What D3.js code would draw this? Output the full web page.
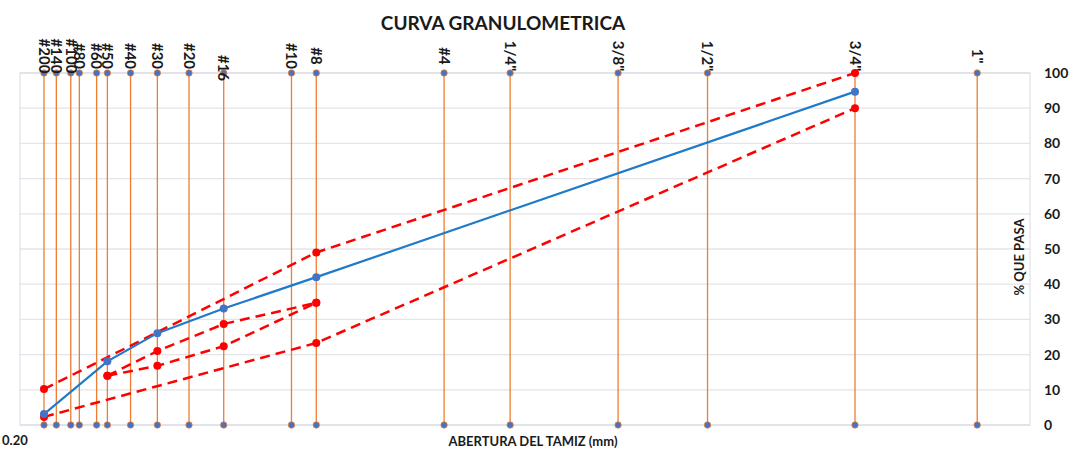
<!DOCTYPE html>
<html lang="es">

<head>
    <meta charset="UTF-8">
    <script type="text/javascript" src="https://d3js.org/d3.v7.min.js"></script>
    <title>Curva granulometrica</title>
    <style>
        body { margin: 0; background: #fff; }
        text { font-family: Lato, "Open Sans", sans-serif; font-weight: bold; fill: #1a1a1a; }
    </style>
</head>

<body>
    <script>
        // Tamices y aberturas (mm)
        var sieveNames = ["#200", "#140", "#100", "#80", "#60", "#50", "#40", "#30", "#20", "#16",
            "#10", "#8", "#4", "1/4\"", "3/8\"", "1/2\"", "3/4\"", "1\""];
        var sieveSizes = [0.075, 0.106, 0.15, 0.18, 0.25, 0.30, 0.425, 0.60, 0.85, 1.18,
            2.00, 2.36, 4.75, 6.35, 9.525, 12.70, 19.05, 25.40];

        // Curva del material (% que pasa)
        var curveSizes = [0.075, 0.30, 0.60, 1.18, 2.36, 19.05];
        var curvePass = [3.1, 18.1, 26.1, 33.1, 42.0, 94.7];

        // Limites (huso) - lineas rojas
        var upperSizes = [0.075, 2.36, 19.05];
        var upperPass = [10.2, 49.0, 100];
        var lowerSizes = [0.075, 2.36, 19.05];
        var lowerPass = [2.3, 23.3, 90];
        var innerSizes = [0.30, 0.60, 1.18, 2.36];
        var innerUpperPass = [14, 21, 28.7, 34.7];
        var innerLowerPass = [14, 16.8, 22.4, 34.7];

        var yTicks = [0, 10, 20, 30, 40, 50, 60, 70, 80, 90, 100];

        var width = 1077, height = 450;
        var plot = { left: 20, right: 1030, top: 73, bottom: 425 };

        var svg = d3.select("body").append("svg")
            .attr("width", width)
            .attr("height", height);

        // Escala x: potencia (como el grafico original)
        var x = d3.scalePow().exponent(0.45)
            .domain([0.075, 19.05])
            .range([44, 855]);
        var y = d3.scaleLinear().domain([0, 100]).range([plot.bottom, plot.top]);

        // Cuadricula horizontal
        svg.append("g")
            .selectAll("line")
            .data(yTicks)
            .enter().append("line")
            .attr("x1", plot.left).attr("x2", plot.right)
            .attr("y1", function (d) { return y(d); })
            .attr("y2", function (d) { return y(d); })
            .attr("stroke", "#e4e4ea")
            .attr("stroke-width", 1.3);

        // Borde del area de trazado
        svg.append("rect")
            .attr("x", plot.left).attr("y", plot.top)
            .attr("width", plot.right - plot.left)
            .attr("height", plot.bottom - plot.top)
            .attr("fill", "none")
            .attr("stroke", "#d9dce6")
            .attr("stroke-width", 1);

        // Eje y a la derecha
        var yAxis = svg.append("g")
            .attr("transform", "translate(" + plot.right + ",0)")
            .call(d3.axisRight(y).tickValues(yTicks).tickSize(0).tickPadding(14));
        yAxis.select(".domain").remove();
        yAxis.selectAll("text")
            .style("font-size", "14px")
            .style("font-family", "Lato, sans-serif")
            .style("font-weight", "bold")
            .attr("fill", "#1a1a1a");

        // Lineas verticales de los tamices
        var sieves = sieveSizes.map(function (s, i) { return { size: s, name: sieveNames[i] }; });

        svg.append("g")
            .selectAll("line")
            .data(sieves)
            .enter().append("line")
            .attr("x1", function (d) { return x(d.size); })
            .attr("x2", function (d) { return x(d.size); })
            .attr("y1", y(0)).attr("y2", y(100))
            .attr("stroke", "#ED7D31")
            .attr("stroke-width", 1.3);

        var ends = svg.append("g");
        [0, 100].forEach(function (v) {
            ends.selectAll(null)
                .data(sieves)
                .enter().append("circle")
                .attr("cx", function (d) { return x(d.size); })
                .attr("cy", y(v))
                .attr("r", 3.2)
                .attr("fill", "#4472C4")
                .attr("stroke", "#ED7D31")
                .attr("stroke-width", 0.8);
        });

        // Etiquetas de tamices (rotadas)
        svg.append("g")
            .selectAll("text")
            .data(sieves)
            .enter().append("text")
            .attr("transform", function (d) {
                var cy = d.name === "#16" ? 68 : 56;
                return "translate(" + x(d.size) + "," + cy + ") rotate(90)";
            })
            .attr("text-anchor", "middle")
            .attr("dy", "0.35em")
            .style("font-size", "15px")
            .text(function (d) { return d.name; });

        // Lineas rojas discontinuas
        function drawRed(sizes, pass) {
            var pts = sizes.map(function (s, i) { return [x(s), y(pass[i])]; });
            svg.append("path")
                .attr("d", d3.line()(pts))
                .attr("fill", "none")
                .attr("stroke", "#FF0000")
                .attr("stroke-width", 2.5)
                .attr("stroke-dasharray", "10,6");
            svg.append("g").selectAll("circle")
                .data(pts)
                .enter().append("circle")
                .attr("cx", function (d) { return d[0]; })
                .attr("cy", function (d) { return d[1]; })
                .attr("r", 4)
                .attr("fill", "#FF0000");
        }
        drawRed(upperSizes, upperPass);
        drawRed(lowerSizes, lowerPass);
        drawRed(innerSizes, innerUpperPass);
        drawRed(innerSizes, innerLowerPass);

        // Curva granulometrica (azul)
        var curve = curveSizes.map(function (s, i) { return [x(s), y(curvePass[i])]; });
        svg.append("path")
            .attr("d", d3.line()(curve))
            .attr("fill", "none")
            .attr("stroke", "#1F7BC9")
            .attr("stroke-width", 2.2);
        svg.append("g").selectAll("circle")
            .data(curve)
            .enter().append("circle")
            .attr("cx", function (d) { return d[0]; })
            .attr("cy", function (d) { return d[1]; })
            .attr("r", 4)
            .attr("fill", "#4472C4");

        // Titulos
        svg.append("text")
            .attr("x", 503).attr("y", 30)
            .attr("text-anchor", "middle")
            .style("font-size", "19px")
            .text("CURVA GRANULOMETRICA");

        svg.append("text")
            .attr("x", 533).attr("y", 446)
            .attr("text-anchor", "middle")
            .style("font-size", "13px")
            .text("ABERTURA DEL TAMIZ (mm)");

        svg.append("text")
            .attr("transform", "translate(1024,257) rotate(-90)")
            .attr("text-anchor", "middle")
            .style("font-size", "13px")
            .text("% QUE PASA");

        // Etiqueta del eje x (esquina inferior izquierda)
        svg.append("text")
            .attr("x", 2).attr("y", 445)
            .style("font-size", "13px")
            .text("0.20");
    </script>
</body>

</html>
